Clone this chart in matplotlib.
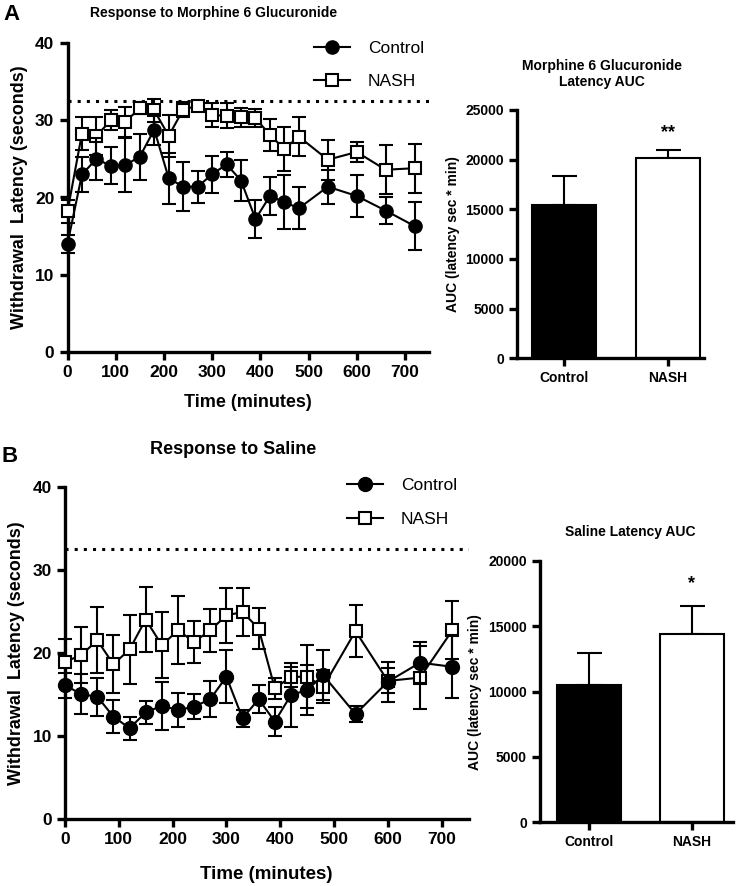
import matplotlib
matplotlib.use("Agg")
import matplotlib.pyplot as plt
from matplotlib.lines import Line2D

plt.rcParams['font.family'] = ['Liberation Sans', 'DejaVu Sans']
plt.rcParams['font.weight'] = 'bold'

# ---------------- data ----------------
time_min = [0, 30, 60, 90, 120, 150, 180, 210, 240, 270, 300, 330, 360, 390,
            420, 450, 480, 540, 600, 660, 720]

m6g_control = [14.0, 23.0, 25.0, 24.1, 24.2, 25.3, 28.8, 22.5, 21.4, 21.4, 23.0,
               24.3, 22.2, 17.2, 20.2, 19.4, 18.6, 21.4, 20.2, 18.3, 16.3]
m6g_control_sem = [1.2, 2.3, 2.7, 2.4, 3.5, 3.0, 2.0, 3.3, 3.2, 2.1, 2.4,
                   1.6, 2.6, 2.5, 2.5, 3.5, 2.7, 2.2, 2.7, 1.7, 3.1]
m6g_nash = [18.2, 28.3, 28.0, 30.0, 29.8, 31.6, 31.3, 28.0, 31.4, 31.9, 30.7,
            30.6, 30.4, 30.3, 28.1, 26.3, 27.9, 24.9, 25.9, 23.6, 23.8]
m6g_nash_sem = [1.5, 2.2, 2.5, 1.3, 2.0, 0.8, 1.5, 2.7, 1.0, 0.5, 1.6,
                1.6, 1.2, 1.2, 2.1, 2.8, 2.5, 2.6, 1.3, 3.2, 3.2]

saline_control = [16.1, 15.0, 14.7, 12.3, 10.9, 12.8, 13.6, 13.1, 13.5, 14.4, 17.1,
                  12.1, 14.4, 11.7, 14.9, 15.5, 17.3, 12.6, 16.5, 18.8, 18.3]
saline_control_sem = [1.5, 2.4, 2.3, 2.0, 1.4, 1.4, 2.9, 2.0, 1.5, 2.2, 3.2,
                      1.0, 1.7, 1.7, 3.8, 3.0, 3.0, 1.0, 2.4, 2.5, 3.8]
saline_nash = [18.9, 19.7, 21.5, 18.6, 20.4, 24.0, 20.9, 22.7, 21.3, 22.7, 24.5,
               24.9, 22.9, 15.7, 17.1, 17.1, 15.9, 22.6, 16.6, 17.0, 22.7]
saline_nash_sem = [2.8, 3.4, 4.0, 3.5, 4.2, 3.9, 4.0, 4.1, 2.5, 2.6, 3.3,
                   2.9, 2.5, 1.3, 1.2, 3.8, 2.0, 3.1, 1.5, 3.8, 3.5]

cutoff = 32.5

auc_groups = ['Control', 'NASH']
m6g_auc = [15400, 20200]
m6g_auc_sem = [3000, 750]
saline_auc = [10500, 14400]
saline_auc_sem = [2450, 2150]

time_ticks = [0, 100, 200, 300, 400, 500, 600, 700]
latency_ticks = [0, 10, 20, 30, 40]

# ---------------- figure ----------------
W, H = 739, 886
fig = plt.figure(figsize=(W / 100, H / 100), dpi=100)


def px_axes(x0, y_top, x1, y_bottom):
    return fig.add_axes([x0 / W, 1 - y_bottom / H, (x1 - x0) / W, (y_bottom - y_top) / H])


SPINE_LW = 2.4


def style_axes(ax, fs):
    for s in ['top', 'right']:
        ax.spines[s].set_visible(False)
    for s in ['left', 'bottom']:
        ax.spines[s].set_linewidth(SPINE_LW)
    ax.tick_params(width=SPINE_LW, length=6, labelsize=fs, direction='out')
    for lab in ax.get_xticklabels() + ax.get_yticklabels():
        lab.set_fontweight('bold')


def line_panel(ax, ctrl, ctrl_sem, nash, nash_sem, msize, xpad, lab_fs):
    ax.errorbar(time_min, nash, yerr=nash_sem, color='black', lw=1.5,
                marker='s', ms=msize, mfc='white', mec='black', mew=1.5,
                capsize=5, capthick=1.5, elinewidth=1.5, clip_on=False, zorder=3)
    ax.errorbar(time_min, ctrl, yerr=ctrl_sem, color='black', lw=1.5,
                marker='o', ms=msize + 1, mfc='black', mec='black',
                capsize=5, capthick=1.5, elinewidth=1.5, clip_on=False, zorder=4)
    ax.axhline(cutoff, color='black', lw=2.2, ls=(0, (1, 2)), zorder=2)
    ax.set_xlim(0, 750)
    ax.set_ylim(0, 40)
    ax.set_xticks(time_ticks)
    ax.set_yticks(latency_ticks)
    ax.set_xlabel('Time (minutes)', fontsize=lab_fs, fontweight='bold', labelpad=xpad)
    ax.set_ylabel('Withdrawal  Latency (seconds)', fontsize=13, fontweight='bold', labelpad=5)
    style_axes(ax, 12.5)


def add_legend(ax, anchor_px, msize):
    handles = [Line2D([], [], color='black', lw=1.5, marker='o', ms=msize + 1,
                      mfc='black', mec='black'),
               Line2D([], [], color='black', lw=1.5, marker='s', ms=msize,
                      mfc='white', mec='black', mew=1.5)]
    ax.legend(handles, ['Control', 'NASH'], loc='center left',
              bbox_to_anchor=(anchor_px[0] / W, 1 - anchor_px[1] / H),
              bbox_transform=fig.transFigure, frameon=False,
              prop={'size': 12.5, 'weight': 'normal'},
              handlelength=2.1, handletextpad=1.0, labelspacing=1.05,
              borderpad=0, borderaxespad=0)


def bar_panel(ax, vals, sems, ymax, yticks, xlim):
    x = [0, 1]
    ax.bar(x, vals, width=0.62, color=['black', 'white'], edgecolor='black',
           linewidth=1.5, zorder=2)
    ax.errorbar(x, vals, yerr=[[0, 0], sems], fmt='none', ecolor='black',
                elinewidth=1.5, capsize=9, capthick=1.5, zorder=1)
    ax.set_xlim(*xlim)
    ax.set_ylim(0, ymax)
    ax.set_yticks(yticks)
    ax.set_xticks(x)
    ax.set_xticklabels(auc_groups)
    ax.set_ylabel('AUC (latency sec * min)', fontsize=10, fontweight='bold', labelpad=4)
    style_axes(ax, 10)


# ---- Panel A line ----
axA = px_axes(67.5, 43.3, 429, 351.7)
line_panel(axA, m6g_control, m6g_control_sem, m6g_nash, m6g_nash_sem, 8.5, 10, 13)
add_legend(axA, (314, 65), 8.5)

# ---- Panel B line ----
axB = px_axes(65, 486.7, 468.5, 818.7)
line_panel(axB, saline_control, saline_control_sem, saline_nash, saline_nash_sem, 9, 14, 13.5)
add_legend(axB, (347, 502.5), 9)

# ---- Panel A bars ----
axAb = px_axes(517.3, 110, 704, 358.3)
bar_panel(axAb, m6g_auc, m6g_auc_sem, 25000, [0, 5000, 10000, 15000, 20000, 25000],
          (-0.45, 1.35))
axAb.text(1, m6g_auc[1] + m6g_auc_sem[1] + 1800, '**', ha='center', va='center',
          fontsize=13, fontweight='bold')

# ---- Panel B bars ----
axBb = px_axes(540, 561, 733, 822.3)
bar_panel(axBb, saline_auc, saline_auc_sem, 20000, [0, 5000, 10000, 15000, 20000],
          (-0.48, 1.4))
axBb.text(1, saline_auc[1] + saline_auc_sem[1] + 1700, '*', ha='center', va='center',
          fontsize=13, fontweight='bold')

# ---- titles / panel letters ----
fig.text(11 / W, 1 - 14 / H, 'A', fontsize=16, fontweight='bold', ha='center', va='center')
fig.text(10 / W, 1 - 456 / H, 'B', fontsize=16, fontweight='bold', ha='center', va='center')
fig.text(90 / W, 1 - 13 / H, 'Response to Morphine 6 Glucuronide', fontsize=10,
         fontweight='bold', ha='left', va='center')
fig.text(150 / W, 1 - 450 / H, 'Response to Saline', fontsize=13,
         fontweight='bold', ha='left', va='center')
fig.text(602 / W, 1 - 74 / H, 'Morphine 6 Glucuronide\nLatency AUC', fontsize=10,
         fontweight='bold', ha='center', va='center', linespacing=1.25)
fig.text(630 / W, 1 - 532 / H, 'Saline Latency AUC', fontsize=10,
         fontweight='bold', ha='center', va='center')

fig.savefig('out.png', dpi=100)
